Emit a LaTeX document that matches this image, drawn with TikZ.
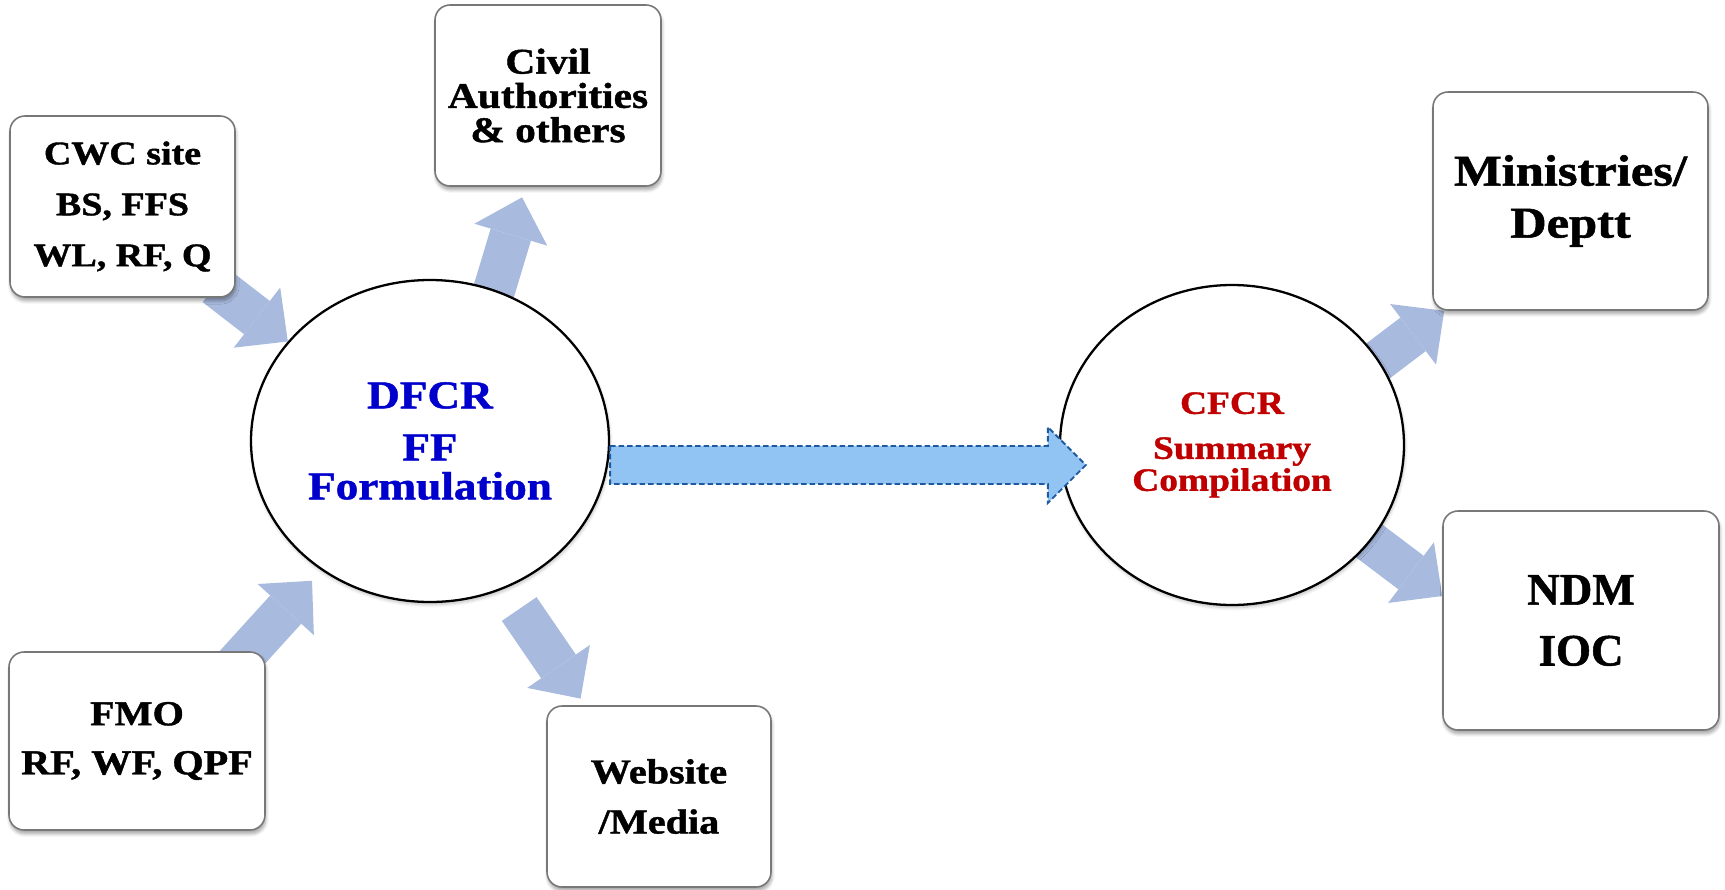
\documentclass[tikz,border=0pt]{standalone}
\usepackage{fontspec}
\setmainfont{Liberation Serif}[FakeStretch=1.15, BoldFeatures={FakeBold=1.2}]
\newfontfamily\timesb{Liberation Serif}[BoldFeatures={FakeBold=1.2}]
\usepackage{tikz}
\usetikzlibrary{shapes, shapes.geometric, arrows.meta, calc}
\usetikzlibrary{shadows.blur}
\pgfdeclarelayer{background}
\pgfdeclarelayer{foreground}
\pgfsetlayers{background,main,foreground}
\definecolor{flowblue}{RGB}{168,186,222}
\definecolor{bigfill}{RGB}{146,196,243}
\definecolor{bigline}{RGB}{30,90,160}
\definecolor{boxgray}{RGB}{120,120,120}
\definecolor{dfblue}{RGB}{0,0,204}
\definecolor{cfred}{RGB}{192,0,0}
\tikzstyle{box}=[draw=boxgray, line width=0.9pt, fill=white,
    rounded corners=0.3cm, align=center, inner sep=0pt,
    blur shadow={shadow xshift=0.5pt, shadow yshift=-2.2pt,
    shadow opacity=35, shadow blur steps=6}]
\tikzstyle{hub}=[ellipse, draw=black, line width=1.3pt, fill=white,
    align=center, inner sep=0pt,
    blur shadow={shadow xshift=0.5pt, shadow yshift=-1.5pt,
    shadow opacity=25, shadow blur steps=6}]
\tikzstyle{fat}=[draw=flowblue, line width=0.84cm,
    -{Triangle[width=1.52cm, length=0.78cm, line width=0pt]}]
\tikzstyle{big}=[draw=bigline, fill=bigfill, line width=1.1pt,
    dash pattern=on 0.11cm off 0.06cm, line join=miter]
\def\shaft{0.38}
\def\head{0.76}

\begin{document}
\begin{tikzpicture}
    \useasboundingbox (0,0) rectangle (34.5,-17.78);
    \node (dfcr) [hub, minimum width=7.16cm, minimum height=6.44cm,
        text=dfblue, font=\fontsize{22.4}{22.2}\selectfont\bfseries]
        at (8.6,-8.82) {DFCR\\[7.4pt]FF\\Formulation};
    \path (dfcr.center)+(16.04,-0.08) node (cfcr) [hub, minimum width=6.88cm,
        minimum height=6.4cm, text=cfred,
        font=\fontsize{18.5}{18.2}\selectfont\bfseries]
        {CFCR\\[7.4pt]Summary\\Compilation};
    \path (dfcr.center)+(-6.15,4.69) node (cwc) [box, minimum width=4.5cm,
        minimum height=3.62cm, font=\fontsize{18.8}{29}\selectfont\bfseries]
        {CWC site\\BS, FFS\\WL, RF, Q};
    \path (dfcr.center)+(2.36,6.91) node (civil) [box, minimum width=4.52cm,
        minimum height=3.62cm, font=\fontsize{20.5}{19.5}\selectfont\bfseries]
        {Civil\\Authorities\\\& others};
    \path (dfcr.center)+(-5.86,-6.0) node (fmo) [box, minimum width=5.12cm,
        minimum height=3.56cm, font=\fontsize{19.9}{27.9}\selectfont\bfseries]
        {FMO\\RF, WF, QPF};
    \path (dfcr.center)+(4.58,-7.11) node (web) [box, minimum width=4.48cm,
        minimum height=3.62cm, font=\fontsize{19.9}{28.5}\selectfont\bfseries]
        {Website\\/Media};
    \path (cfcr.center)+(6.77,4.88) node (mini) [box, minimum width=5.5cm,
        minimum height=4.36cm, font=\fontsize{25}{29.6}\selectfont\bfseries]
        {Ministries/\\Deptt};
    \path (cfcr.center)+(6.98,-3.51) node (ndm) [box, minimum width=5.52cm,
        minimum height=4.38cm, font=\timesb\fontsize{25.6}{34.7}\selectfont\bfseries]
        {NDM\\IOC};
    % light arrows, under the nodes
    \begin{pgfonlayer}{background}
        \draw [fat, shorten <=-0.4cm] (cwc.-40) -- (dfcr.145);
        \draw [fat, shorten <=-0.3cm, shorten >=0.22cm] (dfcr.67) -- (civil.-104);
        \draw [fat, shorten <=-0.4cm, shorten >=0.28cm] (fmo.39) -- (dfcr.-130);
        \draw [fat, shorten <=0.5cm, shorten >=0.16cm] (dfcr.-63) -- (web.129);
        \draw [fat, shorten <=-0.3cm] (cfcr.30) -- (mini.221);
        \draw [fat, shorten <=-0.3cm] (cfcr.-35) -- (ndm.170);
    \end{pgfonlayer}
    % dashed block arrow
    \coordinate (bs) at ($(dfcr.east)+(0,-0.48)$);
    \coordinate (be) at ($(cfcr.west)+(0.54,-0.4)$);
    \begin{pgfonlayer}{foreground}
        \draw [big] ($(bs)+(0,\shaft)$) -- ($(be)+(-\head,\shaft)$)
            -- ($(be)+(-\head,\head)$) -- (be) -- ($(be)+(-\head,-\head)$)
            -- ($(be)+(-\head,-\shaft)$) -- ($(bs)+(0,-\shaft)$) -- cycle;
    \end{pgfonlayer}
\end{tikzpicture}
\end{document}
